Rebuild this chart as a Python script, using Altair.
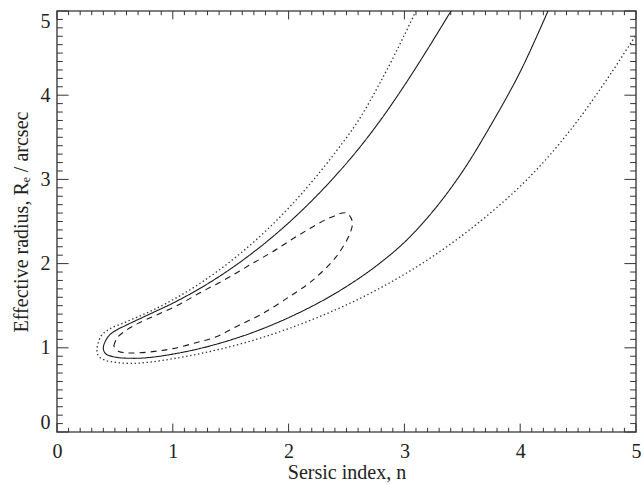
import altair as alt
import pandas as pd

# ---- contour data (Sersic index n, effective radius Re) ----
# solid contour: upper branch (top -> left tip), then lower branch (left tip -> top)
solid_x = [3.42, 3.20, 3.00, 2.80, 2.60, 2.40, 2.20, 2.00, 1.80, 1.60, 1.40, 1.20, 1.00, 0.80, 0.60, 0.50, 0.44,
           0.40, 0.42, 0.50, 0.66, 0.80, 1.00, 1.23, 1.50, 1.75, 2.00, 2.25, 2.50, 2.75, 3.00, 3.25, 3.50, 3.75,
           4.00, 4.24]
solid_y = [5.04, 4.546, 4.116, 3.716, 3.356, 3.036, 2.746, 2.484, 2.248, 2.036, 1.846, 1.678, 1.53, 1.40, 1.27,
           1.20, 1.13, 1.00, 0.93, 0.89, 0.875, 0.885, 0.925, 0.99, 1.093, 1.213, 1.358, 1.528, 1.728, 1.965,
           2.253, 2.628, 3.09, 3.653, 4.278, 5.00]

# dotted contour
dotted_x = [3.10, 3.00, 2.80, 2.60, 2.40, 2.20, 2.00, 1.80, 1.60, 1.40, 1.20, 1.00, 0.80, 0.60, 0.45, 0.38,
            0.345, 0.36, 0.42, 0.52, 0.66, 0.80, 1.00, 1.25, 1.50, 1.75, 2.00, 2.25, 2.50, 2.75, 3.00, 3.25,
            3.50, 3.75, 4.00, 4.25, 4.50, 4.75, 5.00]
dotted_y = [5.004, 4.714, 4.174, 3.694, 3.314, 2.97, 2.66, 2.384, 2.14, 1.924, 1.734, 1.57, 1.43, 1.31, 1.22,
            1.14, 0.97, 0.90, 0.85, 0.825, 0.815, 0.83, 0.87, 0.935, 1.015, 1.113, 1.228, 1.36, 1.51, 1.68,
            1.873, 2.09, 2.335, 2.61, 2.918, 3.28, 3.705, 4.19, 4.715]

# dashed closed contour
dashed_x = [0.49, 0.52, 0.60, 0.70, 0.86, 1.05, 1.23, 1.45, 1.66, 1.86, 2.09, 2.35, 2.50, 2.55, 2.53, 2.41, 2.24,
            2.15, 2.01, 1.78, 1.56, 1.375, 1.20, 1.00, 0.86, 0.70, 0.60, 0.53, 0.49]
dashed_y = [1.02, 1.12, 1.21, 1.29, 1.39, 1.51, 1.65, 1.81, 1.98, 2.14, 2.34, 2.54, 2.60, 2.50, 2.36, 2.08, 1.84,
            1.74, 1.61, 1.41, 1.26, 1.13, 1.06, 0.99, 0.96, 0.94, 0.94, 0.96, 1.02]

x_major = [0, 1, 2, 3, 4, 5]
y_major = [0, 1, 2, 3, 4, 5]
x_minor = [i / 10 for i in range(51) if i % 10]
y_minor = [i / 10 for i in range(51) if i % 10]

W, H = 579, 421
FONT = "Liberation Serif"

xscale = alt.Scale(domain=[0, 5], nice=False, zero=False)
yscale = alt.Scale(domain=[0, 5], nice=False, zero=False)

xaxis = alt.Axis(title="Sersic index, n", values=x_major, format="d", ticks=False, domain=False, grid=False,
                 labelPadding=9, titlePadding=1, labelFontSize=20, titleFontSize=20,
                 labelFont=FONT, titleFont=FONT, labelColor="#222", titleColor="#222",
                 titleFontWeight="normal", labelFlush=False)
yaxis = alt.Axis(title="Effective radius, Rₑ / arcsec", values=y_major, format="d", ticks=False, domain=False,
                 grid=False, labelPadding=7, titlePadding=9, labelFontSize=20, titleFontSize=20,
                 labelFont=FONT, titleFont=FONT, labelColor="#222", titleColor="#222",
                 titleFontWeight="normal", labelFlush=True)


def X(field):
    return alt.X(field, scale=xscale, axis=xaxis)


def Y(field):
    return alt.Y(field, scale=yscale, axis=yaxis)


def curve_df(xs, ys):
    return pd.DataFrame({"n": xs, "re": ys, "i": list(range(len(xs)))})


def curve(xs, ys, dash, width, color):
    return alt.Chart(curve_df(xs, ys)).mark_line(
        clip=True, strokeWidth=width, color=color, strokeDash=dash, strokeCap="butt",
        interpolate="catmull-rom"
    ).encode(
        x=X("n:Q"),
        y=Y("re:Q"),
        order=alt.Order("i:Q"),
    )


solid = curve(solid_x, solid_y, [1, 0], 1.1, "#1a1a1a")
dashed = curve(dashed_x, dashed_y, [6, 5], 1.1, "#1a1a1a")
dotted = curve(dotted_x, dotted_y, [1.4, 2.6], 1.3, "#333333")

TICK = "#333333"


def xticks(vals, length):
    df = pd.DataFrame({"v": vals})
    bottom = alt.Chart(df).mark_rule(color=TICK, strokeWidth=1).encode(
        x=X("v:Q"), y=alt.value(H), y2=alt.value(H - length))
    top = alt.Chart(df).mark_rule(color=TICK, strokeWidth=1).encode(
        x=X("v:Q"), y=alt.value(0), y2=alt.value(length))
    return [bottom, top]


def yticks(vals, length):
    df = pd.DataFrame({"v": vals})
    left = alt.Chart(df).mark_rule(color=TICK, strokeWidth=1).encode(
        y=Y("v:Q"), x=alt.value(0), x2=alt.value(length))
    right = alt.Chart(df).mark_rule(color=TICK, strokeWidth=1).encode(
        y=Y("v:Q"), x=alt.value(W), x2=alt.value(W - length))
    return [left, right]


layers = [solid, dashed, dotted]
layers += xticks(x_major, 8.4) + xticks(x_minor, 4.2)
layers += yticks(y_major, 11.6) + yticks(y_minor, 5.8)

chart = alt.layer(*layers).properties(
    width=W, height=H,
    padding={"left": 57, "top": 11, "right": 8, "bottom": 53},
    autosize=alt.AutoSizeParams(type="none"),
    background="white",
).configure_view(
    stroke="#555555", strokeWidth=1.6
)

chart.save("out.html", embed_options={"renderer": "svg", "actions": False})
